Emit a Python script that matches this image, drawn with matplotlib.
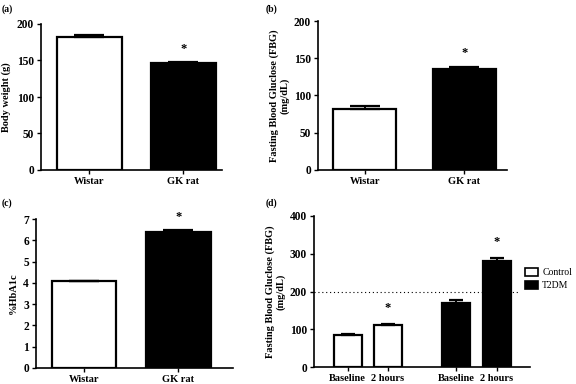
import matplotlib
matplotlib.use("Agg")
import matplotlib.pyplot as plt
from matplotlib.patches import Patch

W, H = 576, 384

# Data
groups_ab = ["Wistar", "GK rat"]
body_weight = [182, 146]
body_weight_err = [3, 2]
fbg = [82, 135]
fbg_err = [4, 3]
hba1c = [4.08, 6.4]
hba1c_err = [0.03, 0.1]
d_labels = ["Baseline", "2 hours", "Baseline", "2 hours"]
d_control = [85, 110]
d_control_err = [3, 5]
d_t2dm = [170, 280]
d_t2dm_err = [8, 8]
threshold = 200

serif = ["Liberation Serif", "DejaVu Serif"]
plt.rcParams["font.family"] = serif
plt.rcParams["font.weight"] = "bold"

fig = plt.figure(figsize=(W / 100, H / 100), dpi=100)

def ax_px(l, r, t, b):
    return fig.add_axes([l / W, 1 - b / H, (r - l) / W, (b - t) / H])

def style(ax):
    for s in ["top", "right"]:
        ax.spines[s].set_visible(False)
    for s in ["left", "bottom"]:
        ax.spines[s].set_linewidth(1.2)
    ax.tick_params(direction="out", width=1.0, length=3, pad=2)
    ax.tick_params(axis="y", labelsize=8.3)
    ax.tick_params(axis="x", labelsize=7.5)
    for lab in ax.get_xticklabels() + ax.get_yticklabels():
        lab.set_fontweight("bold")

def bars(ax, x, vals, errs, colors, width, capsize, stars, star_off):
    ax.bar(x, vals, width=width, color=colors, edgecolor="black", linewidth=1.6, zorder=2)
    ax.errorbar(x, vals, yerr=[[0] * len(vals), errs], fmt="none", ecolor="black",
                elinewidth=1.4, capsize=capsize, capthick=1.6, zorder=3)
    for xi, v, e, s in zip(x, vals, errs, stars):
        if s:
            ax.annotate("*", (xi, v + e), xytext=(0, star_off), textcoords="offset points",
                        ha="center", va="center", fontsize=9, fontweight="bold")

# (a)
ax = ax_px(41, 222, 24, 170)
bars(ax, [0, 1], body_weight, body_weight_err, ["white", "black"], 0.69, 11, [False, True], 9)
ax.set_xlim(-0.516, 1.41)
ax.set_ylim(0, 200)
ax.set_yticks([0, 50, 100, 150, 200])
ax.set_xticks([0, 1])
ax.set_xticklabels(groups_ab)
ax.set_ylabel("Body weight (g)", fontsize=7.5, fontweight="bold", labelpad=4)
style(ax)

# (b)
ax = ax_px(318, 507, 21, 170)
bars(ax, [0, 1], fbg, fbg_err, ["white", "black"], 0.63, 11, [False, True], 10)
ax.set_xlim(-0.47, 1.43)
ax.set_ylim(0, 200)
ax.set_yticks([0, 50, 100, 150, 200])
ax.set_xticks([0, 1])
ax.set_xticklabels(groups_ab)
ax.set_ylabel("Fasting Blood Gluclose (FBG)\n(mg/dL)", fontsize=7.5, fontweight="bold", labelpad=3)
style(ax)

# (c)
ax = ax_px(36, 233, 219, 368)
bars(ax, [0, 1], hba1c, hba1c_err, ["white", "black"], 0.68, 11, [False, True], 9)
ax.set_xlim(-0.508, 1.577)
ax.set_ylim(0, 7)
ax.set_yticks(range(0, 8))
ax.set_xticks([0, 1])
ax.set_xticklabels(groups_ab)
ax.set_ylabel("%HbA1c", fontsize=7.5, fontweight="bold", labelpad=4)
style(ax)

# (d)
ax = ax_px(314, 530, 216, 367)
xd = [0, 1, 2.7, 3.7]
bars(ax, xd[:2], d_control, d_control_err, ["white", "white"], 0.7, 5, [False, True], 11)
bars(ax, xd[2:], d_t2dm, d_t2dm_err, ["black", "black"], 0.7, 5, [False, True], 12)
ax.axhline(threshold, xmin=0, xmax=0.95, color="black", linestyle=(0, (1, 2.5)), linewidth=0.8, zorder=1)
ax.set_xlim(-0.84, 4.53)
ax.set_ylim(0, 400)
ax.set_yticks([0, 100, 200, 300, 400])
ax.set_xticks(xd)
ax.set_xticklabels(d_labels)
ax.set_ylabel("Fasting Blood Gluclose (FBG)\n(mg/dL)", fontsize=7.5, fontweight="bold", labelpad=3)
style(ax)
handles = [Patch(facecolor="white", edgecolor="black", linewidth=1.2, label="Control"),
           Patch(facecolor="black", edgecolor="black", linewidth=1.2, label="T2DM")]
fig.legend(handles=handles, loc="upper left", bbox_to_anchor=(518 / W, 1 - 261 / H),
           frameon=False, prop={"family": serif, "size": 7, "weight": "normal"},
           handlelength=1.4, handleheight=0.9, handletextpad=0.4, labelspacing=0.35,
           borderpad=0.2)

# Panel letters
for txt, x, y in [("(a)", 2, 9), ("(b)", 266, 9), ("(c)", 2, 203), ("(d)", 266, 203)]:
    fig.text(x / W, 1 - y / H, txt, fontsize=7, fontweight="bold", va="center", ha="left")

fig.savefig("out.png", dpi=100)
